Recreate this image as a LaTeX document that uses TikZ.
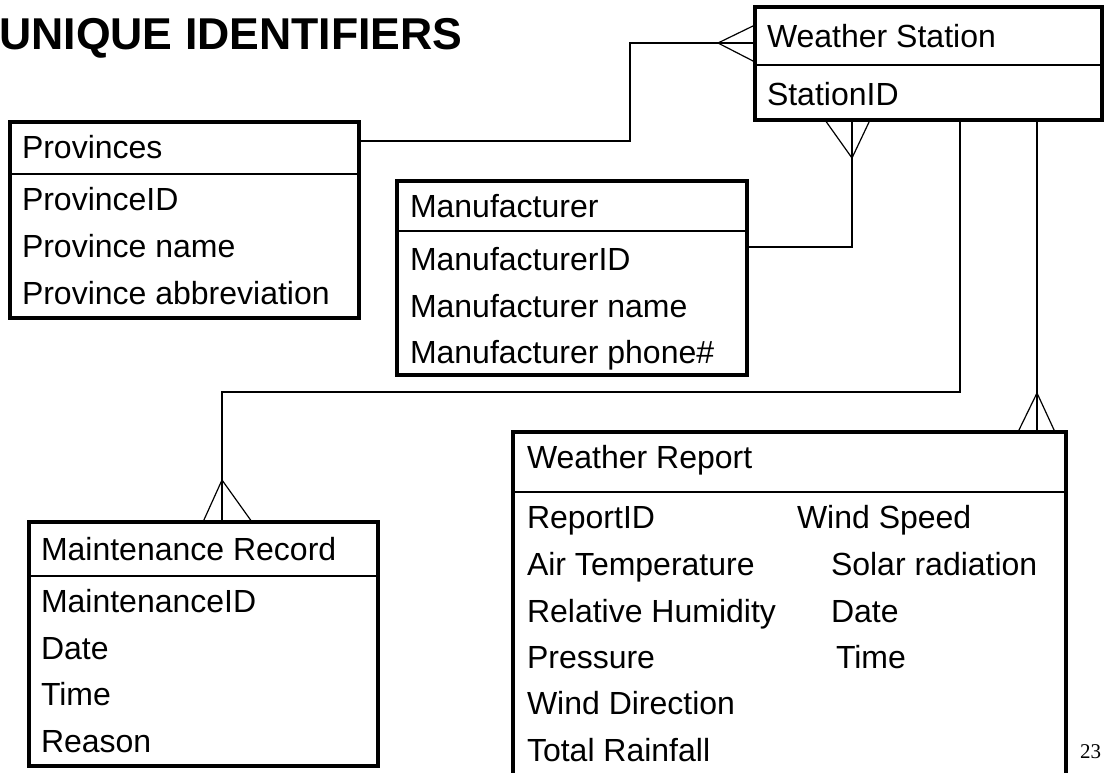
\documentclass[tikz,border=0pt]{standalone}
\usepackage{fontspec}
\setmainfont{Liberation Sans}
\newfontfamily\pagefont{Liberation Serif}
\begin{document}
\begin{tikzpicture}[x=1pt,y=-1pt,
  ent/.style={draw, line width=3.2pt, inner sep=0pt, outer sep=0pt, anchor=north west},
  txt/.style={anchor=base west, inner sep=0pt, outer sep=0pt, font=\fontsize{32}{38}\selectfont},
  conn/.style={line width=1.2pt},
  divline/.style={line width=1.4pt}]
\clip (0,0) rectangle (1104,772);
\useasboundingbox (0,0) rectangle (1104,772);

% title
\node[anchor=base west, inner sep=0pt, font=\fontsize{44.6}{50}\selectfont\bfseries] (title) at (-1,49) {UNIQUE IDENTIFIERS};

% entities
\node[ent, minimum width=347pt, minimum height=113pt] (ws) at (755,7) {};
\node[ent, minimum width=349pt, minimum height=196pt] (prov) at (10,122) {};
\node[ent, minimum width=350pt, minimum height=194pt] (man) at (397,181) {};
\node[ent, minimum width=349pt, minimum height=244pt] (mr) at (29,522) {};
\node[ent, minimum width=553pt, minimum height=400pt] (wr) at (513,432) {};

% dividers
\draw[divline] (ws.west |- 0,65) -- (ws.east |- 0,65);
\draw[divline] (prov.west |- 0,174) -- (prov.east |- 0,174);
\draw[divline] (man.west |- 0,231) -- (man.east |- 0,231);
\draw[divline] (mr.west |- 0,576) -- (mr.east |- 0,576);
\draw[divline] (wr.west |- 0,492) -- (wr.east |- 0,492);

% Weather Station
\node[txt] (wst) at (767,47) {Weather Station};
\node[txt] (ws1) at (767,105) {StationID};

% Provinces
\node[txt] (pt) at (22,158) {Provinces};
\node[txt] (p1) at (22,210) {ProvinceID};
\node[txt] (p2) at (22,257) {Province name};
\node[txt] (p3) at (22,304) {Province abbreviation};

% Manufacturer
\node[txt] (mt) at (410,217) {Manufacturer};
\node[txt] (m1) at (410,270) {ManufacturerID};
\node[txt] (m2) at (410,317) {Manufacturer name};
\node[txt] (m3) at (410,363) {Manufacturer phone\#};

% Maintenance Record
\node[txt] (mrt) at (41,560) {Maintenance Record};
\node[txt] (mr1) at (41,612) {MaintenanceID};
\node[txt] (mr2) at (41,659) {Date};
\node[txt] (mr3) at (41,705) {Time};
\node[txt] (mr4) at (41,752) {Reason};

% Weather Report
\node[txt] (wrt) at (527,468) {Weather Report};
\node[txt] (wr1) at (527,528) {ReportID};
\node[txt] (wr2) at (527,575) {Air Temperature};
\node[txt] (wr3) at (527,622) {Relative Humidity};
\node[txt] (wr4) at (527,668) {Pressure};
\node[txt] (wr5) at (527,714) {Wind Direction};
\node[txt] (wr6) at (527,761) {Total Rainfall};
\node[txt] (wr7) at (797,528) {Wind Speed};
\node[txt] (wr8) at (831,575) {Solar radiation};
\node[txt] (wr9) at (831,622) {Date};
\node[txt] (wr10) at (836,668) {Time};

% page number
\node[anchor=base west, inner sep=0pt, font=\pagefont\fontsize{21}{24}\selectfont] (pg) at (1080,758) {23};

% connectors
% Provinces -> Weather Station
\draw[conn] (prov.east |- 0,141) -| (630,43) -- (ws.west |- 0,43);
\coordinate (t1) at (718,43);
\draw[conn] (ws.west |- 0,25) -- (t1) -- (ws.west |- 0,62);

% Manufacturer -> Weather Station
\draw[conn] (man.east |- 0,247) -| (ws.south -| 852,0);
\coordinate (t2) at (852,158);
\draw[conn] (ws.south -| 825,0) -- (t2) -- (ws.south -| 870,0);

% Weather Station -> Maintenance Record
\draw[conn] (ws.south -| 960,0) |- (222,392) -- (mr.north -| 222,0);
\coordinate (t3) at (222,480);
\draw[conn] (mr.north -| 203,0) -- (t3) -- (mr.north -| 252,0);

% Weather Station -> Weather Report
\draw[conn] (ws.south -| 1037,0) -- (wr.north -| 1037,0);
\coordinate (t4) at (1037,393);
\draw[conn] (wr.north -| 1018,0) -- (t4) -- (wr.north -| 1055,0);
\end{tikzpicture}
\end{document}
